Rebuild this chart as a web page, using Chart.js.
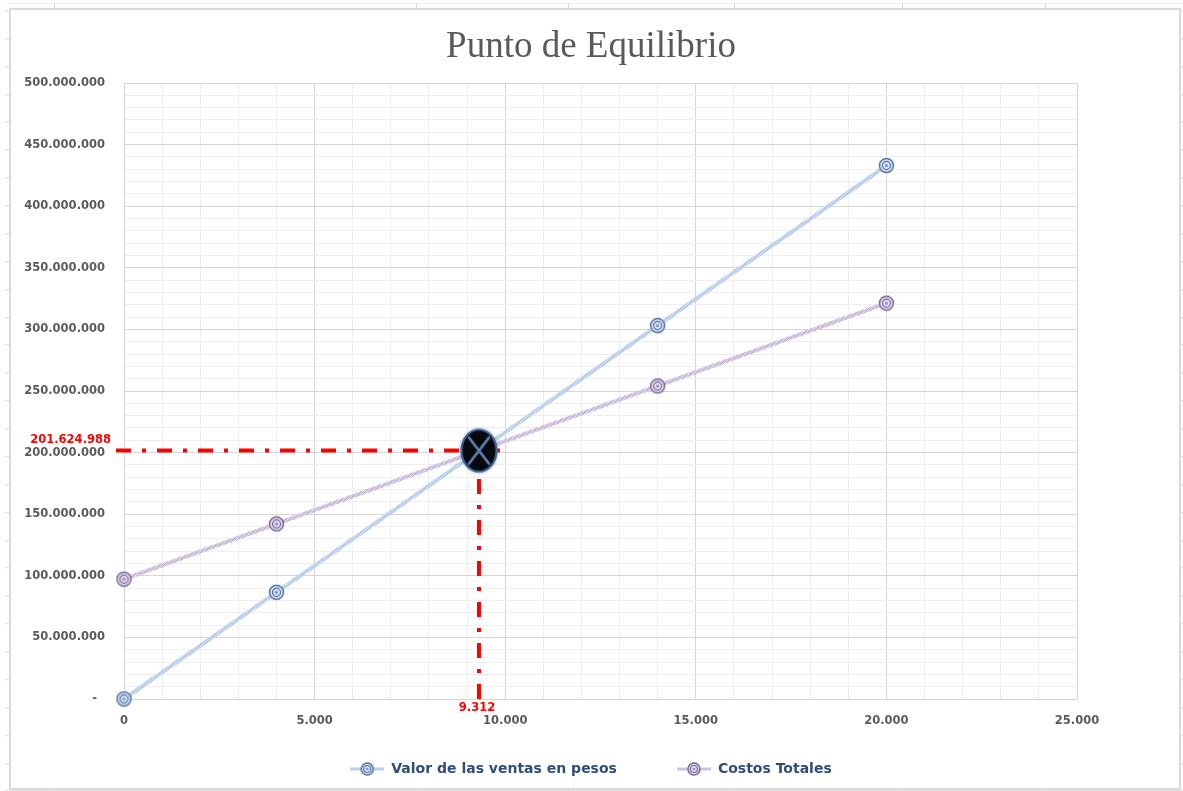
<!DOCTYPE html>
<html lang="es">
<head>
<meta charset="utf-8">
<title>Punto de Equilibrio</title>
<script src="https://cdn.jsdelivr.net/npm/chart.js@4/dist/chart.umd.min.js"></script>
<style>
  html, body { margin: 0; padding: 0; width: 1183px; height: 791px; overflow: hidden; background: #ffffff; }
  /* worksheet cell lines peeking around the chart frame */
  .sheet {
    position: absolute; left: 5px; top: 3px; right: 0; bottom: 0;
    background:
      linear-gradient(#d6d6d6, #d6d6d6) 49px 0 / 1px 100% no-repeat,
      linear-gradient(#d6d6d6, #d6d6d6) 411px 0 / 1px 100% no-repeat,
      linear-gradient(#d6d6d6, #d6d6d6) 563px 0 / 1px 100% no-repeat,
      linear-gradient(#d6d6d6, #d6d6d6) 729px 0 / 1px 100% no-repeat,
      linear-gradient(#d6d6d6, #d6d6d6) 897px 0 / 1px 100% no-repeat,
      linear-gradient(#d6d6d6, #d6d6d6) 1040px 0 / 1px 100% no-repeat,
      repeating-linear-gradient(to bottom, #d6d6d6 0 1px, transparent 1px 27.875px) 0 7.375px / 100% 100% repeat;
  }
  .frame {
    position: absolute; left: 9px; top: 8px; width: 1172px; height: 782px;
    box-sizing: border-box; border: 2px solid #dadada; background: #ffffff;
  }
  canvas { display: block; }
</style>
</head>
<body>
<div class="sheet"></div>
<div class="frame"><canvas id="grafico" width="1168" height="778"></canvas></div>
<script>
// Unidades vendidas y valores en pesos
const unidades = [0, 4000, 14000, 20000];
const ventas = [0, 86600000, 303100000, 433000000];
const costosTotales = [97300000, 142100000, 254100000, 321300000];
const seriesNombres = ['Valor de las ventas en pesos', 'Costos Totales'];

// Punto de equilibrio
const equilibrioUnidades = 9312;
const equilibrioPesos = 201624988;

// Rangos y pasos de los ejes
const ejeX = [0, 25000];
const ejeY = [0, 500000000];
const pasoEtiquetaX = 5000, pasoMenorX = 1000;
const pasoEtiquetaY = 50000000, pasoMenorY = 10000000;

const miles = v => Math.round(v).toString().replace(/\B(?=(\d{3})+(?!\d))/g, '.');

const canvas = document.getElementById('grafico');
const ctx = canvas.getContext('2d');

function rayado(base, raya) {
  const t = document.createElement('canvas');
  t.width = 4; t.height = 4;
  const g = t.getContext('2d');
  g.fillStyle = base; g.fillRect(0, 0, 4, 4);
  g.strokeStyle = raya; g.lineWidth = 1;
  g.beginPath(); g.moveTo(-1, 5); g.lineTo(5, -1); g.stroke();
  return ctx.createPattern(t, 'repeat');
}

function dibujarAnillo(g, cx, cy, r, color, relleno) {
  g.beginPath(); g.arc(cx, cy, r, 0, 2 * Math.PI);
  g.fillStyle = relleno; g.fill();
  g.lineWidth = 1.5; g.strokeStyle = color; g.stroke();
  g.beginPath(); g.arc(cx, cy, r * 0.58, 0, 2 * Math.PI);
  g.lineWidth = 1.2; g.stroke();
  g.beginPath(); g.arc(cx, cy, r * 0.22, 0, 2 * Math.PI);
  g.globalAlpha = 0.7; g.fillStyle = color; g.fill(); g.globalAlpha = 1;
}

function anillo(color, relleno) {
  const c = document.createElement('canvas');
  c.width = 17; c.height = 17;
  dibujarAnillo(c.getContext('2d'), 8.5, 8.5, 7, color, relleno);
  return c;
}

function muestraLeyenda(colorLinea, color, relleno) {
  const c = document.createElement('canvas');
  c.width = 34; c.height = 16;
  const g = c.getContext('2d');
  g.strokeStyle = colorLinea; g.lineWidth = 3;
  g.beginPath(); g.moveTo(0, 8); g.lineTo(34, 8); g.stroke();
  dibujarAnillo(g, 17, 8, 6, color, relleno);
  return c;
}

function marcaEquilibrio() {
  const c = document.createElement('canvas');
  c.width = 46; c.height = 52;
  const g = c.getContext('2d');
  const cx = 23, cy = 26;
  g.shadowColor = 'rgba(60,100,150,0.8)'; g.shadowBlur = 4;
  g.beginPath(); g.ellipse(cx, cy, 17.5, 21, 0, 0, 2 * Math.PI);
  g.fillStyle = '#08090d'; g.fill();
  g.shadowBlur = 0;
  g.lineWidth = 2.2; g.strokeStyle = '#3d6595'; g.stroke();
  g.strokeStyle = '#5a7fae'; g.lineWidth = 2.8; g.lineCap = 'round';
  g.beginPath();
  g.moveTo(cx - 10, cy - 13); g.lineTo(cx + 10, cy + 13);
  g.moveTo(cx + 10, cy - 13); g.lineTo(cx - 10, cy + 13);
  g.stroke();
  return c;
}

const azulLinea = rayado('#c9d9ee', '#a8c0e0');
const moradoLinea = rayado('#d9d0e4', '#b7a6cb');
const anilloAzul = anillo('#4f72a6', '#dde6f3');
const anilloMorado = anillo('#7b6699', '#e5def0');
const leyendaImgs = [
  muestraLeyenda('#bccfe9', '#4f72a6', '#dde6f3'),
  muestraLeyenda('#cfc3de', '#7b6699', '#e5def0')
];

const fuenteEje = { family: 'DejaVu Sans', size: 11.5, weight: 'bold' };
const grisEje = '#595959';
const lineaMayor = '#d6d6d6';
const lineaMenor = '#eeeeee';

// Líneas guía rojas y rótulos del punto de equilibrio
const guiasEquilibrio = {
  id: 'guiasEquilibrio',
  beforeDatasetsDraw(chart) {
    const { ctx: c, chartArea, scales: { x, y } } = chart;
    const px = x.getPixelForValue(equilibrioUnidades);
    const py = y.getPixelForValue(equilibrioPesos);
    c.save();
    c.strokeStyle = '#ff0000';
    c.lineWidth = 4;
    c.setLineDash([15, 11, 4, 11]);
    c.beginPath(); c.moveTo(chartArea.left - 8, py); c.lineTo(px + 24, py); c.stroke();
    c.beginPath(); c.moveTo(px, chartArea.bottom); c.lineTo(px, py + 18); c.stroke();
    c.restore();
  },
  afterDraw(chart) {
    const { ctx: c, chartArea, scales: { x, y } } = chart;
    const px = x.getPixelForValue(equilibrioUnidades);
    const py = y.getPixelForValue(equilibrioPesos);
    c.save();
    c.fillStyle = '#ff0000';
    c.font = 'bold 11.5px "DejaVu Sans"';
    c.textBaseline = 'middle';
    c.textAlign = 'right';
    c.fillText(miles(equilibrioPesos), chartArea.left - 13, py - 11);
    c.textAlign = 'center';
    c.fillText(miles(equilibrioUnidades), px - 2, chartArea.bottom + 9);
    c.restore();
  }
};

new Chart(ctx, {
  type: 'scatter',
  data: {
    datasets: [
      {
        label: 'Punto de equilibrio',
        data: [{ x: equilibrioUnidades, y: equilibrioPesos }],
        pointStyle: marcaEquilibrio(),
        pointRadius: 20,
        showLine: false,
        clip: false,
        order: 0
      },
      {
        label: seriesNombres[0],
        data: unidades.map((u, i) => ({ x: u, y: ventas[i] })),
        showLine: true,
        borderColor: azulLinea,
        borderWidth: 4,
        pointStyle: anilloAzul,
        pointRadius: 8,
        clip: false,
        order: 1
      },
      {
        label: seriesNombres[1],
        data: unidades.map((u, i) => ({ x: u, y: costosTotales[i] })),
        showLine: true,
        borderColor: moradoLinea,
        borderWidth: 4,
        pointStyle: anilloMorado,
        pointRadius: 8,
        clip: false,
        order: 1
      }
    ]
  },
  options: {
    responsive: false,
    animation: false,
    events: [],
    layout: { padding: { left: 0, right: 8, top: 0, bottom: 2 } },
    plugins: {
      tooltip: { enabled: false },
      title: {
        display: true,
        text: 'Punto de Equilibrio',
        color: '#595959',
        font: { family: 'Liberation Serif', size: 37, weight: 'normal' },
        padding: { top: 15, bottom: 13.6 }
      },
      legend: {
        position: 'bottom',
        labels: {
          usePointStyle: true,
          pointStyleWidth: 34,
          padding: 60,
          color: '#2e4d7b',
          font: { family: 'DejaVu Sans', size: 14, weight: 'bold' },
          generateLabels: () => seriesNombres.map((nombre, i) => ({
            text: nombre,
            pointStyle: leyendaImgs[i],
            fontColor: '#2e4d7b',
            fillStyle: 'transparent',
            strokeStyle: 'transparent',
            lineWidth: 0,
            hidden: false,
            datasetIndex: i + 1
          }))
        }
      }
    },
    scales: {
      x: {
        type: 'linear',
        min: ejeX[0],
        max: ejeX[1],
        afterFit: s => { s.height = 3; },
        border: { display: true, color: lineaMayor, width: 1 },
        grid: {
          drawTicks: false,
          lineWidth: 1,
          color: c => (c.tick && c.tick.value % pasoEtiquetaX === 0) ? lineaMayor : lineaMenor
        },
        ticks: {
          stepSize: pasoMenorX,
          autoSkip: false,
          maxRotation: 0,
          mirror: true,
          padding: -29,
          color: grisEje,
          font: fuenteEje,
          callback: v => v % pasoEtiquetaX === 0 ? miles(v) : ''
        }
      },
      y: {
        type: 'linear',
        position: 'left',
        min: ejeY[0],
        max: ejeY[1],
        afterFit: s => { s.width = 113; },
        border: { display: true, color: lineaMayor, width: 1 },
        grid: {
          drawTicks: false,
          lineWidth: 1,
          color: c => (c.tick && c.tick.value % pasoEtiquetaY === 0) ? lineaMayor : lineaMenor
        },
        ticks: {
          stepSize: pasoMenorY,
          autoSkip: false,
          padding: 19,
          color: grisEje,
          font: fuenteEje,
          callback: v => v === 0 ? '-  ' : (v % pasoEtiquetaY === 0 ? miles(v) : '')
        }
      },
      margenDerecho: {
        type: 'linear',
        position: 'right',
        afterFit: s => { s.width = 94; },
        border: { display: false },
        grid: { display: false, drawTicks: false },
        ticks: { display: false }
      }
    }
  },
  plugins: [guiasEquilibrio]
});
</script>
</body>
</html>
